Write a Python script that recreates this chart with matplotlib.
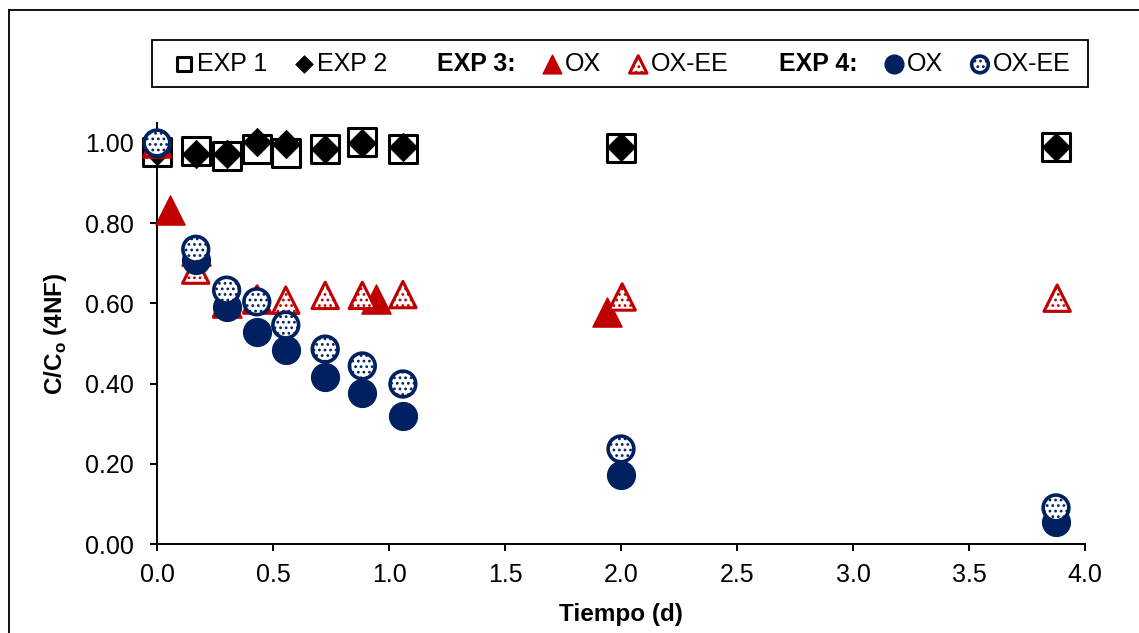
import matplotlib
matplotlib.use("Agg")
import matplotlib.pyplot as plt
from matplotlib.lines import Line2D
from matplotlib.patches import Rectangle
from matplotlib.legend_handler import HandlerPathCollection

# ---- data -------------------------------------------------------------
t_common = [0.0, 0.167, 0.30, 0.43, 0.555, 0.725, 0.885, 1.06, 2.0, 3.875]
exp1 = [0.977, 0.980, 0.968, 0.986, 0.976, 0.985, 1.002, 0.985, 0.988, 0.990]
exp2 = [0.980, 0.973, 0.973, 1.002, 0.998, 0.985, 1.000, 0.990, 0.990, 0.990]

t_exp3_ox = [0.0, 0.055, 0.167, 0.30, 0.43, 0.944, 1.94]
exp3_ox = [1.000, 0.832, 0.730, 0.600, 0.610, 0.611, 0.578]

t_exp3_oxee = [0.0, 0.167, 0.30, 0.43, 0.555, 0.725, 0.885, 1.06, 2.005, 3.88]
exp3_oxee = [1.000, 0.683, 0.600, 0.610, 0.608, 0.620, 0.620, 0.622, 0.616, 0.613]

exp4_ox = [1.000, 0.708, 0.590, 0.529, 0.484, 0.416, 0.377, 0.319, 0.172, 0.055]
exp4_oxee = [1.000, 0.735, 0.633, 0.604, 0.546, 0.486, 0.444, 0.399, 0.237, 0.090]

x_ticks = [0.0, 0.5, 1.0, 1.5, 2.0, 2.5, 3.0, 3.5, 4.0]
y_ticks = [0.0, 0.2, 0.4, 0.6, 0.8, 1.0]

legend_labels = ["EXP 1", "EXP 2", "EXP 3:", "OX", "OX-EE", "EXP 4:", "OX", "OX-EE"]

# ---- style ------------------------------------------------------------
RED = "#C00000"
NAVY = "#002060"
plt.rcParams["font.family"] = ["Liberation Sans", "DejaVu Sans"]
plt.rcParams["hatch.linewidth"] = 1.2

W, H = 1139, 633
Y_TOP = 1.05
fig = plt.figure(figsize=(W / 100, H / 100), dpi=100)
ax = fig.add_axes([157 / W, 1 - 544 / H, (1085 - 157) / W, Y_TOP * 401 / H])

S_BIG = 20.0 ** 2

h1 = ax.scatter(t_common, exp1, s=S_BIG, marker="s", facecolor="white",
                edgecolor="black", linewidths=2.2, zorder=2, clip_on=False)
h2 = ax.scatter(t_common, exp2, s=14.5 ** 2, marker="D", facecolor="black",
                edgecolor="black", linewidths=0.5, zorder=3, clip_on=False)
h3 = ax.scatter(t_exp3_ox, exp3_ox, s=21.0 ** 2, marker="^", facecolor=RED,
                edgecolor=RED, linewidths=1.0, zorder=4, clip_on=False)
h4 = ax.scatter(t_exp3_oxee, exp3_oxee, s=19.0 ** 2, marker="^", facecolor="white",
                edgecolor=RED, hatch="...", linewidths=2.2, zorder=5, clip_on=False)
h5 = ax.scatter(t_common, exp4_ox, s=S_BIG, marker="o", facecolor=NAVY,
                edgecolor=NAVY, linewidths=1.0, zorder=6, clip_on=False)
h6 = ax.scatter(t_common, exp4_oxee, s=18.5 ** 2, marker="o", facecolor="white",
                edgecolor=NAVY, hatch="...", linewidths=2.6, zorder=7, clip_on=False)

# ---- axes -------------------------------------------------------------
ax.set_xlim(0, 4.0)
ax.set_ylim(0, Y_TOP)
ax.set_xticks(x_ticks)
ax.set_xticklabels([f"{v:.1f}" for v in x_ticks])
ax.set_yticks(y_ticks)
ax.set_yticklabels([f"{v:.2f}" for v in y_ticks])
for side in ("top", "right"):
    ax.spines[side].set_visible(False)
for side in ("left", "bottom"):
    ax.spines[side].set_linewidth(1.4)
ax.tick_params(axis="both", direction="out", length=5, width=1.4, labelsize=18,
               colors="black")
ax.tick_params(axis="x", pad=9)
ax.tick_params(axis="y", pad=12)

ax.set_xlabel("Tiempo (d)", fontsize=17.5, fontweight="bold", labelpad=11)
ax.set_ylabel("C/C$_\\mathregular{o}$ (4NF)", fontsize=17.5, fontweight="bold",
              labelpad=11)

# ---- legend -----------------------------------------------------------
blank = Line2D([], [], linestyle="none")
handles = [h1, h2, blank, h3, h4, blank, h5, h6]
hmap = {
    h1: HandlerPathCollection(sizes=[10.5 ** 2]),
    h2: HandlerPathCollection(sizes=[9.0 ** 2]),
    h3: HandlerPathCollection(sizes=[13.5 ** 2]),
    h4: HandlerPathCollection(sizes=[12.5 ** 2]),
    h5: HandlerPathCollection(sizes=[13.5 ** 2]),
    h6: HandlerPathCollection(sizes=[12.0 ** 2]),
}
leg = fig.legend(handles, legend_labels, handler_map=hmap, ncol=8,
                 loc="center left", bbox_to_anchor=(174 / W, 1 - 64 / H),
                 bbox_transform=fig.transFigure, frameon=False, fontsize=18,
                 scatterpoints=1, handlelength=0.8, handletextpad=0.12,
                 columnspacing=1.07, borderpad=0.0, borderaxespad=0.0)
for txt in leg.get_texts():
    if txt.get_text().startswith("EXP") and txt.get_text().endswith(":"):
        txt.set_fontweight("bold")

# legend box
fig.add_artist(Rectangle((152 / W, 1 - 87 / H), (1088 - 152) / W, 47 / H,
                         transform=fig.transFigure, facecolor="none",
                         edgecolor="black", linewidth=1.3))

# outer frame of the figure (top and left edges)
fig.add_artist(Line2D([9 / W, 1.0], [1 - 10 / H, 1 - 10 / H],
                      transform=fig.transFigure, color="black", linewidth=1.3))
fig.add_artist(Line2D([9 / W, 9 / W], [1 - 10 / H, 0.0],
                      transform=fig.transFigure, color="black", linewidth=1.3))

fig.savefig("out.png", dpi=100, facecolor="white")
